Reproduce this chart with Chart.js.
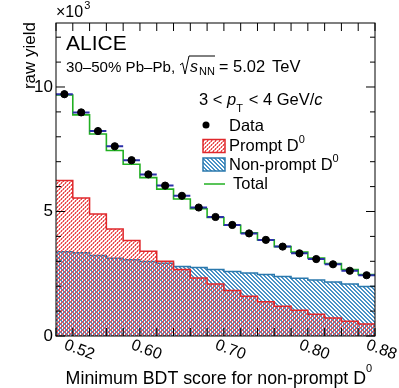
<!DOCTYPE html>
<html>
<head>
<meta charset="utf-8">
<script src="https://cdn.jsdelivr.net/npm/chart.js@4/dist/chart.umd.min.js"></script>
<style>
  html, body { margin: 0; padding: 0; background: #fff; }
  #wrap { width: 399px; height: 388px; }
</style>
</head>
<body>
<div id="wrap"><canvas id="myChart" width="399" height="388"></canvas></div>
<script>
// bin edges of the BDT score histogram
var binEdges = [0.50, 0.52, 0.54, 0.56, 0.58, 0.60, 0.62, 0.64, 0.66, 0.68, 0.70,
                0.72, 0.74, 0.76, 0.78, 0.80, 0.82, 0.84, 0.86, 0.88];
// raw yields, x10^3
var dados = [9.71, 8.98, 8.23, 7.62, 7.06, 6.49, 6.04, 5.63, 5.16, 4.78,
             4.46, 4.12, 3.86, 3.59, 3.32, 3.09, 2.88, 2.62, 2.44];
var dadosErr = [0.15, 0.14, 0.14, 0.13, 0.13, 0.12, 0.12, 0.12, 0.11, 0.11,
                0.11, 0.10, 0.10, 0.10, 0.10, 0.09, 0.09, 0.09, 0.09];
var prompt = [6.24, 5.54, 4.90, 4.30, 3.84, 3.40, 3.00, 2.67, 2.33, 2.09,
              1.83, 1.60, 1.38, 1.19, 1.03, 0.87, 0.72, 0.59, 0.48];
var nonPrompt = [3.38, 3.34, 3.23, 3.12, 3.06, 2.99, 2.92, 2.79, 2.75, 2.67,
                 2.59, 2.53, 2.47, 2.39, 2.32, 2.25, 2.17, 2.09, 1.99];
var total = [9.68, 8.88, 8.11, 7.45, 6.90, 6.36, 5.90, 5.50, 5.11, 4.76,
             4.45, 4.14, 3.86, 3.59, 3.37, 3.13, 2.91, 2.67, 2.47];
var xLabels = [0.52, 0.60, 0.70, 0.80, 0.88];
var yLabels = [0, 5, 10];

var FONT = "'Liberation Sans', Arial, Helvetica, sans-serif";
var RED = '#e0282c';
var BLUE = '#2a78ad';
var GREEN = '#22b022';

// 4x4 pixel hatch tiles. "\" for blue; "/" for red, with the red pixels that
// land on blue ones half transparent so the overlap mixes both colours
function blueTile(x, y) { return x === y || x === (y + 1) % 4; }
function hatch(r, g0, b, dir) {
    var n = 4;
    var c = document.createElement('canvas');
    c.width = n; c.height = n;
    var g = c.getContext('2d');
    for (let i = 0; i < n; i++) {
        var xa = dir > 0 ? n - 1 - i : i;
        [xa, (xa + 1) % n].forEach(function (x) {
            var alpha = (dir > 0 && blueTile(x, i)) ? 0.55 : 1;
            g.fillStyle = 'rgba(' + r + ',' + g0 + ',' + b + ',' + alpha + ')';
            g.fillRect(x, i, 1, 1);
        });
    }
    return g.createPattern(c, 'repeat');
}
var ctx = document.getElementById('myChart').getContext('2d');
var redHatch = hatch(234, 74, 76, 1);
var blueHatch = hatch(74, 146, 198, -1);

// histogram as stepped line: lower edges + closing point at last edge
function histo(vals) {
    var pts = [];
    for (let i = 0; i < vals.length; i++) {
        pts.push({ x: binEdges[i], y: vals[i] });
    }
    pts.push({ x: binEdges[vals.length], y: vals[vals.length - 1] });
    return pts;
}
function pontos(vals) {
    return vals.map((v, i) => ({ x: (binEdges[i] + binEdges[i + 1]) / 2, y: v }));
}

function txt(c, s, x, y, size, opts) {
    opts = opts || {};
    c.font = (opts.italic ? 'italic ' : '') + size + 'px ' + FONT;
    c.textAlign = opts.align || 'left';
    c.textBaseline = opts.base || 'alphabetic';
    c.fillStyle = '#000';
    c.fillText(s, x, y);
    return c.measureText(s).width;
}

var rootStyle = {
    id: 'rootStyle',
    beforeDatasetDraw(chart, args) {
        if (args.index !== 0) return;
        // error bars under the data markers
        var c = chart.ctx, xs = chart.scales.x, ys = chart.scales.y;
        c.save();
        c.strokeStyle = '#2b2fa8';
        c.lineWidth = 2;
        for (let i = 0; i < dados.length; i++) {
            var y = ys.getPixelForValue(dados[i]);
            var x = xs.getPixelForValue((binEdges[i] + binEdges[i + 1]) / 2);
            c.beginPath();
            c.moveTo(xs.getPixelForValue(binEdges[i]), y);
            c.lineTo(xs.getPixelForValue(binEdges[i + 1]), y);
            c.moveTo(x, ys.getPixelForValue(dados[i] - dadosErr[i]));
            c.lineTo(x, ys.getPixelForValue(dados[i] + dadosErr[i]));
            c.stroke();
        }
        c.restore();
    },
    afterDraw(chart) {
        var c = chart.ctx, a = chart.chartArea;
        var xs = chart.scales.x, ys = chart.scales.y;
        c.save();
        // frame
        c.strokeStyle = '#000';
        c.lineWidth = 1;
        c.strokeRect(a.left, a.top, a.right - a.left, a.bottom - a.top);
        // x ticks, every bin edge, top and bottom
        c.beginPath();
        binEdges.forEach(function (e) {
            var x = xs.getPixelForValue(e);
            c.moveTo(x, a.bottom); c.lineTo(x, a.bottom - 8);
            c.moveTo(x, a.top); c.lineTo(x, a.top + 8);
        });
        // y ticks, left and right
        for (let v = 0; v <= 12; v++) {
            var y = ys.getPixelForValue(v);
            var len = v % 5 === 0 ? 9 : 5;
            c.moveTo(a.left, y); c.lineTo(a.left + len, y);
            c.moveTo(a.right, y); c.lineTo(a.right - len, y);
        }
        c.stroke();

        // y labels
        yLabels.forEach(function (v) {
            txt(c, String(v), a.left - 3, ys.getPixelForValue(v), 17, { align: 'right', base: 'middle' });
        });
        // x labels, rotated like the original
        xLabels.forEach(function (v) {
            c.save();
            c.translate(xs.getPixelForValue(v) + 6.5, a.bottom + 14);
            c.rotate(20 * Math.PI / 180);
            txt(c, v.toFixed(2), 0, 0, 16, { align: 'center', base: 'middle' });
            c.restore();
        });
        // x title
        txt(c, '0', a.right - 3, 372, 11, { align: 'right' });
        txt(c, 'Minimum BDT score for non-prompt D', a.right - 9, 384, 17.8, { align: 'right' });
        // y title
        c.save();
        c.translate(35, a.top - 1);
        c.rotate(-Math.PI / 2);
        txt(c, 'raw yield', 0, 0, 17, { align: 'right' });
        c.restore();
        // x10^3
        var w = txt(c, '\u00d710', a.left, 17, 16);
        txt(c, '3', a.left + w + 1, 9, 11);

        // header
        txt(c, 'ALICE', 66, 50, 21);
        txt(c, '30\u201350% Pb\u2013Pb,', 66, 72, 15.1);
        // sqrt(s_NN)
        c.beginPath();
        c.strokeStyle = '#000';
        c.lineWidth = 1;
        c.moveTo(180, 65); c.lineTo(182.5, 63); c.lineTo(185, 74); c.lineTo(189, 56); c.lineTo(215, 56);
        c.stroke();
        txt(c, 's', 190, 72, 16, { italic: true });
        txt(c, 'NN', 199, 75, 11);
        txt(c, '=', 219, 72, 16);
        txt(c, '5.02', 233, 72, 16.5);
        txt(c, 'TeV', 272, 72, 16.5);

        // legend header
        var x = 199;
        x += txt(c, '3 < ', x, 105, 16.5);
        x += txt(c, 'p', x, 105, 16.5, { italic: true });
        txt(c, 'T', x, 112, 11);
        x += 8;
        x += txt(c, ' < 4 GeV/', x, 105, 16.5);
        txt(c, 'c', x, 105, 16.5, { italic: true });

        // legend entries
        c.fillStyle = '#000';
        c.beginPath();
        c.arc(206, 125, 3.5, 0, 2 * Math.PI);
        c.fill();
        txt(c, 'Data', 229, 131, 16.5);

        c.fillStyle = redHatch;
        c.fillRect(203, 139.5, 22, 13);
        c.strokeStyle = RED;
        c.lineWidth = 1.5;
        c.strokeRect(203, 139.5, 22, 13);
        w = txt(c, 'Prompt D', 229, 151, 16.5);
        txt(c, '0', 229 + w, 143, 11);

        c.fillStyle = blueHatch;
        c.fillRect(203, 158, 22, 13);
        c.strokeStyle = BLUE;
        c.strokeRect(203, 158, 22, 13);
        w = txt(c, 'Non-prompt D', 229, 170, 16.5);
        txt(c, '0', 229 + w, 162, 11);

        c.strokeStyle = GREEN;
        c.lineWidth = 1.5;
        c.beginPath();
        c.moveTo(204, 184); c.lineTo(225, 184);
        c.stroke();
        txt(c, 'Total', 233, 189, 16.5);
        c.restore();
    }
};

var grafico = new Chart(ctx, {
    type: 'line',
    data: {
        datasets: [{
            label: 'Data',
            type: 'scatter',
            data: pontos(dados),
            pointRadius: 3.6,
            pointBackgroundColor: '#000',
            pointBorderColor: '#000',
            showLine: false
        }, {
            label: 'Total',
            data: histo(total),
            stepped: 'before',
            borderColor: GREEN,
            borderWidth: 1.6,
            pointRadius: 0,
            fill: false
        }, {
            label: 'Prompt D0',
            data: histo(prompt),
            stepped: 'before',
            borderColor: RED,
            borderWidth: 1.5,
            backgroundColor: redHatch,
            pointRadius: 0,
            fill: 'origin'
        }, {
            label: 'Non-prompt D0',
            data: histo(nonPrompt),
            stepped: 'before',
            borderColor: BLUE,
            borderWidth: 1.5,
            backgroundColor: blueHatch,
            pointRadius: 0,
            fill: 'origin'
        }]
    },
    options: {
        responsive: false,
        animation: false,
        layout: { padding: { left: 56, top: 23, right: 24, bottom: 52 } },
        scales: {
            x: { type: 'linear', min: 0.50, max: 0.88, display: false },
            y: { min: 0, max: 12.57, display: false }
        },
        plugins: {
            legend: { display: false },
            tooltip: { enabled: false }
        }
    },
    plugins: [rootStyle]
});
</script>
</body>
</html>
